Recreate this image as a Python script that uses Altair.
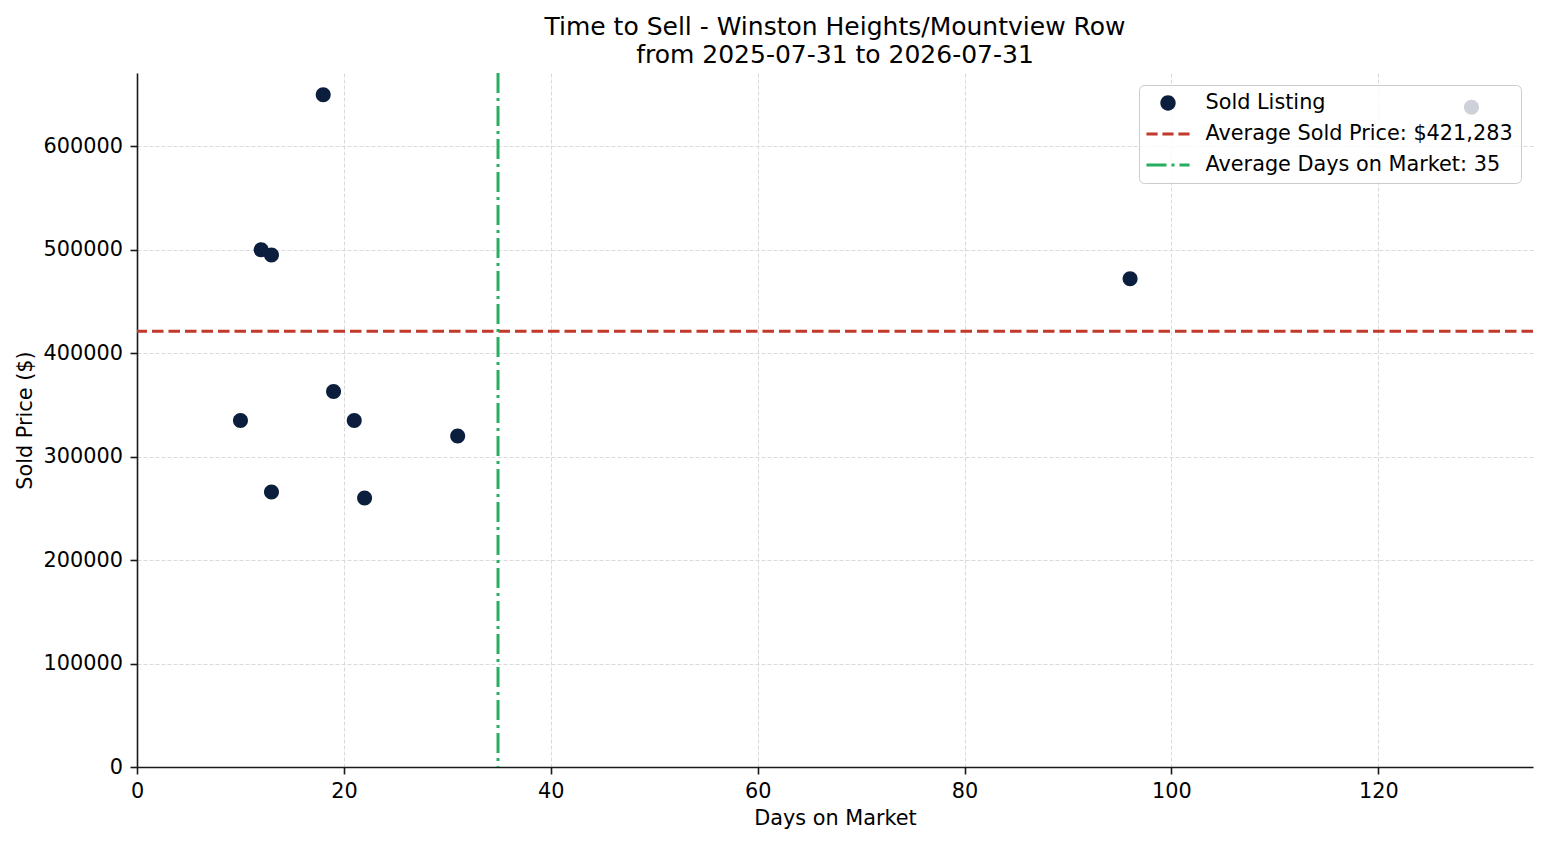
import altair as alt
import pandas as pd

# sold listings
days = [10, 12, 13, 13, 18, 19, 21, 22, 31, 96, 129]
prices = [335000, 500000, 495000, 266000, 650000, 363000, 335000, 260000, 320000, 472000, 638000]

avg_price = 421283
avg_days = 34.9

series = ["Sold Listing", "Average Sold Price: $421,283", "Average Days on Market: 35"]
colors = ["#0b1e3d", "#c0392b", "#27ae60"]

x_ticks = [0, 20, 40, 60, 80, 100, 120]
y_ticks = [0, 100000, 200000, 300000, 400000, 500000, 600000]

title_lines = ["Time to Sell - Winston Heights/Mountview Row", "from 2025-07-31 to 2026-07-31"]

FONT = "DejaVu Sans"
FS = 20.8

# legend glyphs as symbol paths: a disc, a dashed bar, a dash-dot bar
# (the bars reach past the unit square so the legend rows stay compact)
disc = "M-0.73,0A0.73,0.73 0 1,0 0.73,0A0.73,0.73 0 1,0 -0.73,0Z"
dashed = ("M-2.05,-0.143H-0.99V0.143H-2.05Z M-0.53,-0.143H0.53V0.143H-0.53Z "
          "M0.99,-0.143H2.05V0.143H0.99Z")
dashdot = ("M-2.05,-0.143H-0.145V0.143H-2.05Z M0.331,-0.143H0.617V0.143H0.331Z "
           "M1.093,-0.143H2.05V0.143H1.093Z")

sold = pd.DataFrame({"days": days, "price": prices, "series": series[0]})

legend = alt.Legend(title=None, orient="top-right", offset=12,
                    symbolSize=441, symbolStrokeWidth=0, symbolOpacity=1, symbolOffset=11,
                    labelOffset=27, labelFont=FONT, labelFontSize=FS,
                    labelColor="black", labelLimit=500,
                    padding=7.5, rowPadding=9,
                    fillColor="rgba(255,255,255,0.8)",
                    strokeColor="#cccccc", cornerRadius=5)

x_scale = alt.Scale(domain=[0, 134.95], nice=False, zero=False)
y_scale = alt.Scale(domain=[0, 671000], nice=False)

points = alt.Chart(sold).mark_point(filled=True, size=422, opacity=1, strokeWidth=0).encode(
    x=alt.X("days:Q", scale=x_scale, title="Days on Market",
            axis=alt.Axis(values=x_ticks, labelFlush=False, titlePadding=7)),
    y=alt.Y("price:Q", scale=y_scale, title="Sold Price ($)",
            axis=alt.Axis(values=y_ticks, format="d", titlePadding=8)),
    color=alt.Color("series:N", scale=alt.Scale(domain=series, range=colors), legend=legend),
    shape=alt.Shape("series:N", scale=alt.Scale(domain=series, range=[disc, dashed, dashdot]),
                    legend=legend),
)

price_line = alt.Chart(pd.DataFrame({"avg": [avg_price]})).mark_rule(
    color=colors[1], strokeWidth=3, strokeDash=[11.5, 5]
).encode(y=alt.Y("avg:Q", scale=y_scale))

days_line = alt.Chart(pd.DataFrame({"avg": [avg_days]})).mark_rule(
    color=colors[2], strokeWidth=3, strokeDash=[20, 5, 3, 5]
).encode(x=alt.X("avg:Q", scale=x_scale))

chart = alt.layer(points, price_line, days_line).properties(
    width=1396, height=694,
    padding={"left": 129, "top": 65, "right": 4, "bottom": 64},
    autosize=alt.AutoSizeParams(type="none"),
    title=alt.TitleParams(text=title_lines, font=FONT, fontSize=25, fontWeight="normal",
                          color="black", lineHeight=28, anchor="middle", frame="group",
                          baseline="bottom", offset=-21),
).configure_view(
    strokeWidth=0
).configure_axis(
    labelFont=FONT, labelFontSize=FS, labelColor="black",
    titleFont=FONT, titleFontSize=FS, titleFontWeight="normal", titleColor="black",
    domainColor="#1a1a1a", domainWidth=1.6,
    tickColor="#1a1a1a", tickWidth=1.6, tickSize=7, labelPadding=7.5,
    gridColor="#dadada", gridDash=[4, 2], gridWidth=1, labelOverlap=False,
)

chart.save("out.html", embed_options={"renderer": "svg", "actions": False})
